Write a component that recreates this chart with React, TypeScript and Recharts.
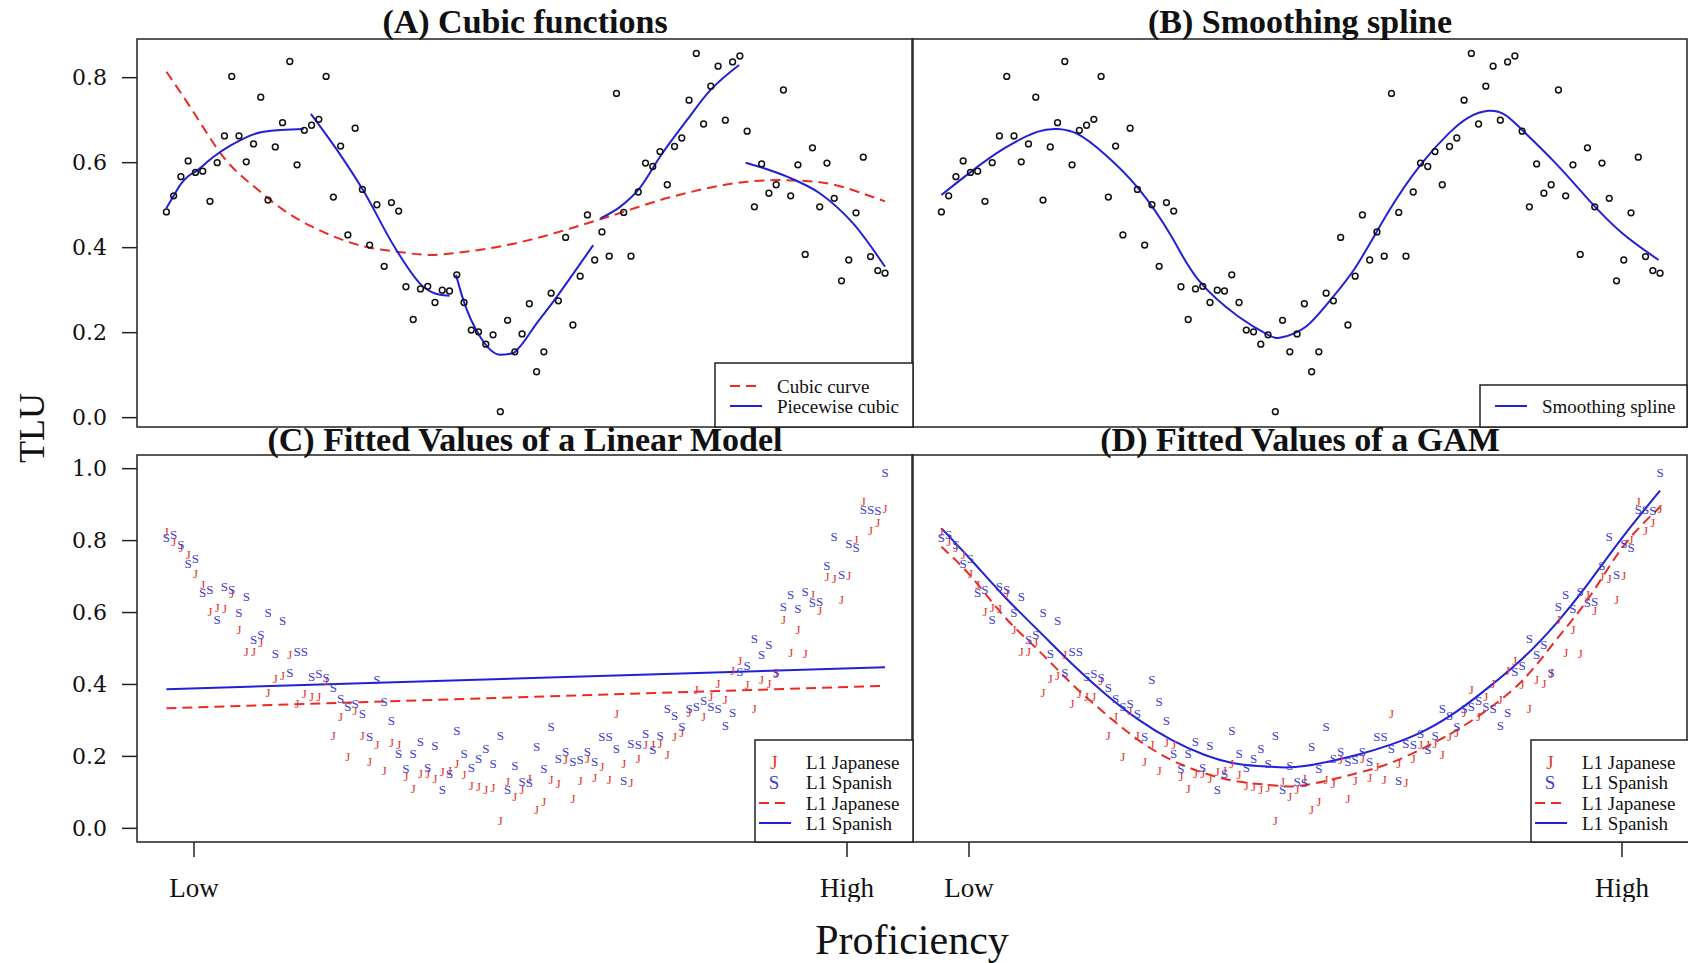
import React from 'react'
import { ComposedChart, Line, Scatter, XAxis, YAxis } from 'recharts'

// x is the proficiency rank of each observation (0..99); the axis runs a little past both ends
const X_DOMAIN: [number, number] = [-4.05, 102.85]
const PROF_TICKS = [3.8, 93.76]
const PROF_LABELS = ['Low', 'High']

const TOP_DOMAIN: [number, number] = [-0.022, 0.891]
const TOP_TICKS = [0, 0.2, 0.4, 0.6, 0.8]
const BOTTOM_DOMAIN: [number, number] = [-0.038, 1.038]
const BOTTOM_TICKS = [0, 0.2, 0.4, 0.6, 0.8, 1.0]

// (A) and (B): observed TLU, in proficiency order
const TLU_OBS = [
  0.484, 0.522, 0.567, 0.604, 0.577, 0.58, 0.509, 0.6, 0.663, 0.803,
  0.663, 0.602, 0.644, 0.754, 0.512, 0.637, 0.694, 0.838, 0.595, 0.676,
  0.688, 0.702, 0.803, 0.519, 0.639, 0.43, 0.681, 0.537, 0.406, 0.501,
  0.356, 0.506, 0.486, 0.308, 0.231, 0.303, 0.309, 0.271, 0.3, 0.298,
  0.336, 0.271, 0.206, 0.202, 0.173, 0.195, 0.014, 0.229, 0.155, 0.197,
  0.268, 0.108, 0.155, 0.293, 0.275, 0.424, 0.218, 0.333, 0.477, 0.371,
  0.437, 0.38, 0.763, 0.483, 0.38, 0.531, 0.599, 0.591, 0.626, 0.548,
  0.638, 0.658, 0.747, 0.857, 0.691, 0.78, 0.827, 0.7, 0.837, 0.851,
  0.674, 0.496, 0.597, 0.528, 0.548, 0.771, 0.522, 0.595, 0.384, 0.635,
  0.496, 0.599, 0.516, 0.322, 0.371, 0.482, 0.613, 0.379, 0.346, 0.34,
]

// (A) global cubic
const CUBIC_X = [0, 4, 8, 12, 16, 20, 24, 28, 32, 36, 40, 44, 48, 52, 56, 60, 64, 68, 72, 76, 80, 84, 88, 92, 96, 99]
const CUBIC_Y = [0.814, 0.712, 0.61, 0.545, 0.49, 0.45, 0.42, 0.4, 0.39, 0.383, 0.388, 0.397, 0.41, 0.427, 0.447, 0.468, 0.49, 0.512, 0.53, 0.545, 0.555, 0.559, 0.557, 0.548, 0.527, 0.509]

// (A) piecewise cubic, one piece per fifth of the range
const PIECES_X = [
  [0, 1, 2, 3, 4.1, 6.5, 8.8, 13.4, 18.9],
  [19.9, 23.5, 27.1, 31.7, 35.4, 37.7, 39],
  [39.9, 40.9, 43.2, 46, 47.8, 48.7, 51, 53.3, 56.1, 58.8],
  [59.8, 62.5, 65.2, 68, 71.7, 74.9, 78.9],
  [79.8, 85.5, 90, 94.6, 99],
]
const PIECES_Y = [
  [0.493, 0.522, 0.55, 0.568, 0.58, 0.614, 0.64, 0.673, 0.679],
  [0.715, 0.63, 0.535, 0.394, 0.308, 0.289, 0.287],
  [0.336, 0.277, 0.191, 0.148, 0.152, 0.167, 0.222, 0.273, 0.34, 0.406],
  [0.469, 0.496, 0.54, 0.614, 0.7, 0.77, 0.83],
  [0.6, 0.567, 0.528, 0.457, 0.355],
]

// (B) smoothing spline
const SPLINE_X = [0, 4.1, 8.7, 13.3, 16.1, 18.8, 22.5, 27.1, 31.7, 35.4, 40.9, 45, 46.9, 50.2, 53.4, 57.1, 61.6, 66.2, 69.9, 72.6, 75.4, 77.7, 80, 84.6, 89.2, 93.8, 98.8]
const SPLINE_Y = [0.524, 0.579, 0.634, 0.673, 0.679, 0.667, 0.62, 0.54, 0.426, 0.324, 0.238, 0.195, 0.189, 0.214, 0.273, 0.355, 0.485, 0.599, 0.669, 0.706, 0.722, 0.712, 0.677, 0.599, 0.512, 0.434, 0.371]

// (C) and (D): observations by L1 group, in proficiency order
const JAPANESE_OBS = [
  0.825, 0.797, 0.782, 0.76, 0.709, 0.677, 0.604, 0.613, 0.61, 0.652,
  0.552, 0.491, 0.491, 0.517, 0.377, 0.417, 0.425, 0.482, 0.346, 0.374,
  0.366, 0.366, 0.411, 0.259, 0.312, 0.201, 0.327, 0.257, 0.185, 0.234,
  0.162, 0.238, 0.233, 0.144, 0.111, 0.153, 0.153, 0.139, 0.158, 0.16,
  0.18, 0.151, 0.118, 0.116, 0.107, 0.114, 0.023, 0.13, 0.088, 0.107,
  0.138, 0.053, 0.074, 0.136, 0.125, 0.19, 0.083, 0.134, 0.195, 0.142,
  0.171, 0.136, 0.32, 0.181, 0.127, 0.195, 0.232, 0.232, 0.236, 0.206,
  0.254, 0.266, 0.322, 0.385, 0.31, 0.366, 0.403, 0.359, 0.44, 0.468,
  0.399, 0.334, 0.413, 0.403, 0.43, 0.581, 0.489, 0.553, 0.487, 0.649,
  0.607, 0.7, 0.695, 0.635, 0.703, 0.802, 0.908, 0.828, 0.85, 0.89,
]
const SPANISH_OBS = [
  0.809, 0.818, 0.79, 0.737, 0.751, 0.655, 0.663, 0.581, 0.672, 0.663,
  0.6, 0.644, 0.524, 0.538, 0.6, 0.485, 0.577, 0.433, 0.491, 0.493,
  0.422, 0.431, 0.42, 0.392, 0.361, 0.338, 0.346, 0.319, 0.255, 0.414,
  0.352, 0.299, 0.208, 0.167, 0.208, 0.241, 0.17, 0.229, 0.109, 0.153,
  0.273, 0.208, 0.17, 0.195, 0.222, 0.181, 0.259, 0.107, 0.176, 0.13,
  0.127, 0.227, 0.167, 0.283, 0.195, 0.213, 0.187, 0.19, 0.213, 0.187,
  0.254, 0.254, 0.222, 0.134, 0.236, 0.232, 0.264, 0.218, 0.257, 0.334,
  0.315, 0.283, 0.334, 0.338, 0.355, 0.34, 0.334, 0.287, 0.322, 0.435,
  0.454, 0.527, 0.484, 0.512, 0.433, 0.616, 0.651, 0.612, 0.658, 0.627,
  0.63, 0.732, 0.811, 0.707, 0.793, 0.781, 0.887, 0.887, 0.884, 0.988,
]

// (C) linear model fits
const LM_X = [0, 99]
const LM_JAPANESE = [0.334, 0.396]
const LM_SPANISH = [0.387, 0.448]

// (D) GAM fits
const GAM_X = [0, 4.1, 8.7, 13.3, 17.9, 22.5, 27.1, 31.7, 36.3, 40.9, 45.5, 50, 57.2, 61.8, 66.3, 71, 75.5, 80.1, 84.7, 89.3, 93.9, 99]
const GAM_JAPANESE = [0.783, 0.7, 0.588, 0.496, 0.403, 0.32, 0.246, 0.19, 0.153, 0.13, 0.12, 0.12, 0.153, 0.181, 0.222, 0.273, 0.334, 0.412, 0.524, 0.644, 0.783, 0.894]
const GAM_SPANISH = [0.834, 0.746, 0.644, 0.551, 0.459, 0.375, 0.303, 0.246, 0.204, 0.179, 0.171, 0.173, 0.204, 0.232, 0.269, 0.325, 0.394, 0.473, 0.57, 0.686, 0.811, 0.939]

const RED = '#ec2a24'
const BLUE = '#2020d8'
const J_COLOR = '#e4382f'
const S_COLOR = '#3b3bcf'
const SERIF = 'Liberation Serif'

const pts = (xs: number[], ys: number[]) => xs.map((x, i) => ({ x, y: ys[i] }))
const ranked = (ys: number[]) => ys.map((y, i) => ({ x: i, y }))

const circleShape = (p: any) => (
  <circle cx={p.cx} cy={p.cy} r={2.9} fill="none" stroke="#111" strokeWidth={1.5} />
)
const letterShape = (letter: string, color: string) => (p: any) => (
  <text x={p.cx} y={p.cy} textAnchor="middle" dominantBaseline="central"
    fontSize={13} fontFamily={SERIF} fill={color}>{letter}</text>
)

// plot box is always 776 wide; the y axis (when shown) takes the 137px left of it
function Panel({ left, top, width, height, yDomain, yTicks, xTicks, children }: any) {
  return (
    <div style={{ position: 'absolute', left, top }}>
      <ComposedChart width={width} height={height} margin={{ top: 0, right: 0, bottom: xTicks ? 0 : 12, left: 0 }}>
        <XAxis
          type="number"
          dataKey="x"
          domain={X_DOMAIN}
          allowDataOverflow
          hide={!xTicks}
          ticks={xTicks}
          interval={0}
          height={60}
          tickFormatter={(v: number) => PROF_LABELS[PROF_TICKS.indexOf(v)]}
          tick={{ fontSize: 27, fill: '#111', fontFamily: SERIF }}
          tickSize={15}
          tickMargin={21}
          tickLine={{ stroke: '#222', strokeWidth: 1.5 }}
          axisLine={false}
        />
        <YAxis
          type="number"
          dataKey="y"
          domain={yDomain}
          allowDataOverflow
          hide={!yTicks}
          ticks={yTicks}
          interval={0}
          width={137}
          tickFormatter={(v: number) => v.toFixed(1)}
          tick={{ fontSize: 22, fill: '#111', fontFamily: 'DejaVu Serif' }}
          tickSize={15}
          tickMargin={15}
          tickLine={{ stroke: '#222', strokeWidth: 1.5 }}
          axisLine={false}
        />
        {children}
      </ComposedChart>
    </div>
  )
}

function LegendRow({ y, x0, kind, color, letter, label, textX, symX }: any) {
  return (
    <g>
      {kind === 'letter' && (
        <text x={symX} y={y} textAnchor="middle" dominantBaseline="central" fontSize={19} fontFamily={SERIF} fill={color}>{letter}</text>
      )}
      {kind !== 'letter' && (
        <line x1={x0} x2={x0 + 32} y1={y} y2={y} stroke={color} strokeWidth={2}
          strokeDasharray={kind === 'dash' ? '10 6' : undefined} />
      )}
      <text x={textX} y={y} dominantBaseline="central" fontSize={19} fontFamily={SERIF} fill="#111">{label}</text>
    </g>
  )
}

function GroupLegend({ left }: { left: number }) {
  return (
    <g>
      <rect x={left} y={740} width={158} height={102} fill="#fff" stroke="#222" strokeWidth={1.5} />
      <LegendRow y={762} kind="letter" letter="J" color={J_COLOR} symX={left + 19} textX={left + 51} label="L1 Japanese" />
      <LegendRow y={782} kind="letter" letter="S" color={S_COLOR} symX={left + 19} textX={left + 51} label="L1 Spanish" />
      <LegendRow y={803} kind="dash" x0={left + 4} color={RED} textX={left + 51} label="L1 Japanese" />
      <LegendRow y={823} kind="solid" x0={left + 4} color={BLUE} textX={left + 51} label="L1 Spanish" />
    </g>
  )
}

const titleStyle = { fontSize: 34, fontWeight: 700, fontFamily: SERIF, fill: '#111' }

export default function App() {
  const lineProps = { dataKey: 'y', dot: false, isAnimationActive: false, strokeWidth: 2 }
  return (
    <div style={{ position: 'absolute', left: 0, top: 0, width: 1688, height: 963, background: '#fff', fontFamily: SERIF }}>
      {/* (A) cubic functions */}
      <Panel left={0} top={39} width={913} height={400} yDomain={TOP_DOMAIN} yTicks={TOP_TICKS}>
        <Scatter data={ranked(TLU_OBS)} shape={circleShape} isAnimationActive={false} />
        <Line {...lineProps} type="natural" data={pts(CUBIC_X, CUBIC_Y)} stroke={RED} strokeDasharray="10 6" />
        {PIECES_X.map((xs, k) => (
          <Line key={k} {...lineProps} type="monotone" data={pts(xs, PIECES_Y[k])} stroke={BLUE} />
        ))}
      </Panel>

      {/* (B) smoothing spline */}
      <Panel left={912} top={39} width={776} height={400} yDomain={TOP_DOMAIN}>
        <Scatter data={ranked(TLU_OBS)} shape={circleShape} isAnimationActive={false} />
        <Line {...lineProps} type="natural" data={pts(SPLINE_X, SPLINE_Y)} stroke={BLUE} />
      </Panel>

      {/* (C) linear model */}
      <Panel left={0} top={455} width={913} height={447} yDomain={BOTTOM_DOMAIN} yTicks={BOTTOM_TICKS} xTicks={PROF_TICKS}>
        <Scatter data={ranked(JAPANESE_OBS)} shape={letterShape('J', J_COLOR)} isAnimationActive={false} />
        <Scatter data={ranked(SPANISH_OBS)} shape={letterShape('S', S_COLOR)} isAnimationActive={false} />
        <Line {...lineProps} type="linear" data={pts(LM_X, LM_JAPANESE)} stroke={RED} strokeDasharray="10 6" />
        <Line {...lineProps} type="linear" data={pts(LM_X, LM_SPANISH)} stroke={BLUE} />
      </Panel>

      {/* (D) GAM */}
      <Panel left={912} top={455} width={776} height={447} yDomain={BOTTOM_DOMAIN} xTicks={PROF_TICKS}>
        <Scatter data={ranked(JAPANESE_OBS)} shape={letterShape('J', J_COLOR)} isAnimationActive={false} />
        <Scatter data={ranked(SPANISH_OBS)} shape={letterShape('S', S_COLOR)} isAnimationActive={false} />
        <Line {...lineProps} type="natural" data={pts(GAM_X, GAM_JAPANESE)} stroke={RED} strokeDasharray="10 6" />
        <Line {...lineProps} type="natural" data={pts(GAM_X, GAM_SPANISH)} stroke={BLUE} />
      </Panel>

      <svg width={1688} height={963} style={{ position: 'absolute', left: 0, top: 0, pointerEvents: 'none' }}>
        {/* panel frames */}
        <rect x={137} y={39} width={776} height={388} fill="none" stroke="#222" strokeWidth={1.5} />
        <rect x={912} y={39} width={775} height={388} fill="none" stroke="#222" strokeWidth={1.5} />
        <rect x={137} y={455} width={776} height={387} fill="none" stroke="#222" strokeWidth={1.5} />
        <rect x={912} y={455} width={775} height={387} fill="none" stroke="#222" strokeWidth={1.5} />

        <text x={525} y={33} textAnchor="middle" style={titleStyle}>(A) Cubic functions</text>
        <text x={1300} y={33} textAnchor="middle" style={titleStyle}>(B) Smoothing spline</text>
        <text x={525} y={451} textAnchor="middle" style={titleStyle}>(C) Fitted Values of a Linear Model</text>
        <text x={1300} y={451} textAnchor="middle" style={titleStyle}>(D) Fitted Values of a GAM</text>

        <text transform="translate(32,428) rotate(-90)" textAnchor="middle" dominantBaseline="central"
          fontSize={36} fontFamily={SERIF} fill="#111">TLU</text>
        <text x={912} y={954} textAnchor="middle" fontSize={42} fontFamily={SERIF} fill="#111">Proficiency</text>

        {/* legend (A) */}
        <rect x={715} y={363} width={198} height={64} fill="#fff" stroke="#222" strokeWidth={1.5} />
        <LegendRow y={386} kind="dash" x0={730} color={RED} textX={777} label="Cubic curve" />
        <LegendRow y={406} kind="solid" x0={730} color={BLUE} textX={777} label="Piecewise cubic" />

        {/* legend (B) */}
        <rect x={1480} y={385} width={207} height={42} fill="#fff" stroke="#222" strokeWidth={1.5} />
        <LegendRow y={406} kind="solid" x0={1495} color={BLUE} textX={1542} label="Smoothing spline" />

        <GroupLegend left={755} />
        <GroupLegend left={1531} />
      </svg>
    </div>
  )
}
